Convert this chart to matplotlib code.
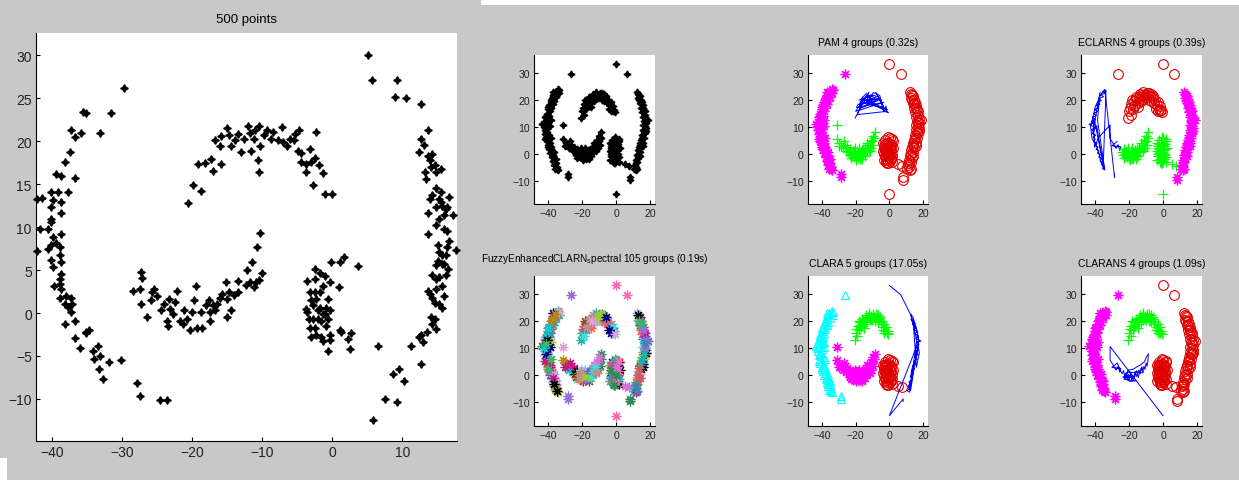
import matplotlib.pyplot as plt
from matplotlib.patches import Rectangle

plt.rcParams['font.family'] = ['Liberation Sans Narrow', 'Liberation Sans', 'DejaVu Sans']
plt.rcParams['mathtext.default'] = 'regular'

# ---- big panel: 500 points ----
big_left_ring = [
    (-42.2, 13.3), (-41.4, 13.4), (-41.7, 9.8), (-42.1, 7.2), (-40.1, 14.1), (-39.9, 13.1),
    (-39.4, 16.2), (-38.7, 16.0), (-38.1, 17.6), (-37.5, 18.7), (-37.3, 21.3), (-36.8, 20.5),
    (-35.6, 23.4), (-35.2, 23.3), (-35.9, 21.0), (-33.2, 21.0), (-31.6, 23.3), (-29.7, 26.2),
    (-36.7, 15.7), (-39.1, 14.1), (-37.8, 14.1), (-38.8, 12.9), (-40.1, 12.3), (-38.7, 11.7),
    (-40.1, 11.0), (-40.1, 10.6), (-40.6, 9.8), (-38.8, 9.2), (-39.9, 8.8), (-39.4, 8.1),
    (-40.1, 7.9), (-38.9, 7.7), (-40.6, 7.5), (-38.9, 6.7), (-40.2, 6.2), (-38.7, 5.9),
    (-39.9, 5.3), (-38.7, 4.6), (-38.9, 4.0), (-39.7, 3.2), (-38.9, 3.4), (-38.7, 2.8),
    (-38.9, 1.8), (-38.0, 2.0), (-37.3, 1.8), (-38.2, 1.1), (-37.8, 0.7), (-37.2, 1.1),
    (-37.3, 0.1), (-38.2, -1.3), (-36.7, -0.9), (-36.8, -2.9), (-36.0, -4.1), (-35.2, -2.2),
    (-34.7, -2.0), (-35.2, -2.3), (-34.2, -4.4), (-33.5, -3.8), (-34.0, -5.3), (-33.3, -6.5),
    (-33.1, -5.0), (-32.8, -7.7), (-31.9, -5.7), (-30.1, -5.5), (-27.9, -8.2), (-27.4, -9.7),
    (-24.6, -10.1), (-23.6, -10.1),
]
big_top_arc = [
    (-20.6, 12.8), (-19.9, 14.9), (-18.7, 14.2), (-19.2, 17.3), (-18.2, 17.5), (-17.3, 17.9),
    (-17.0, 16.5), (-15.9, 17.4), (-16.8, 20.2), (-16.0, 19.4), (-15.9, 20.6), (-15.1, 21.5),
    (-14.7, 20.7), (-14.4, 19.5), (-13.9, 20.1), (-13.4, 20.8), (-13.0, 18.8), (-12.6, 20.3),
    (-12.0, 21.8), (-11.8, 21.0), (-11.6, 18.9), (-11.2, 20.3), (-11.0, 21.3), (-10.5, 21.8),
    (-10.6, 17.8), (-10.4, 16.4), (-10.3, 19.5), (-9.8, 20.7), (-9.3, 21.3), (-8.8, 20.3),
    (-8.4, 21.1), (-7.2, 21.7), (-7.7, 20.1), (-7.0, 19.9), (-6.5, 19.5), (-6.1, 20.3),
    (-5.5, 20.1), (-5.3, 20.8), (-4.7, 21.3), (-4.9, 18.9), (-4.4, 18.6), (-4.5, 17.6),
    (-3.8, 17.3), (-3.7, 16.4), (-3.2, 19.1), (-3.0, 17.6), (-2.8, 14.9), (-2.5, 18.0),
    (-2.3, 21.1), (-1.9, 17.2), (-1.3, 16.3), (-1.1, 13.8), (0.0, 13.8),
]
big_low_arc = [
    (-10.3, 9.3), (-10.7, 7.7), (-10.0, 4.7), (-11.4, 5.9), (-12.2, 5.0), (-11.7, 3.6),
    (-12.3, 3.3), (-11.2, 3.0), (-10.5, 3.9), (-10.9, 3.6), (-13.4, 3.7), (-13.4, 2.5),
    (-14.0, 2.1), (-14.7, 2.4), (-15.2, 3.6), (-15.0, 1.6), (-15.8, 2.2), (-16.0, 1.7),
    (-16.5, 1.1), (-17.0, 0.9), (-17.4, 0.1), (-17.6, 1.5), (-18.1, 0.9), (-18.8, 0.1),
    (-19.3, -1.7), (-19.4, 3.2), (-19.8, 1.5), (-20.3, -2.0), (-20.0, 0.1), (-20.7, -0.7),
    (-21.2, 0.3), (-21.7, -0.9), (-22.2, 2.6), (-22.4, 1.3), (-23.1, 0.5), (-23.3, 1.6),
    (-23.6, -0.9), (-24.0, 1.1), (-24.5, 0.3), (-25.0, 2.0), (-25.7, 2.4), (-25.9, 1.5),
    (-26.4, -0.5), (-25.5, 2.8), (-27.4, 2.8), (-27.3, 1.1), (-27.3, 4.8), (-27.1, 4.1),
    (-28.5, 2.6), (-21.3, -1.3), (-18.6, -1.7), (-17.5, -0.9), (-16.7, 0.3), (-15.0, -0.5),
    (-14.5, 0.4), (-23.4, -1.5), (-22.7, -0.1),
]
big_blob = [
    (-3.6, 3.7), (-3.6, 0.1), (-3.8, 0.5), (-3.2, 2.4), (-3.0, 1.5), (-2.7, -0.7),
    (-2.5, 4.0), (-2.4, 5.1), (-3.2, -1.8), (-2.3, -2.6), (-2.5, -1.8), (-2.0, 0.3),
    (-1.8, 2.4), (-1.8, 4.7), (-1.6, -2.8), (-1.3, 3.2), (-1.1, -0.1), (-1.3, -3.2),
    (-0.9, -1.5), (-0.6, 1.6), (-0.6, -4.4), (-0.4, -2.6), (-0.4, 3.6), (-0.3, -3.1),
    (-0.2, 5.9), (-1.8, 0.6), (-1.3, -0.1), (-1.6, -0.9), (-0.9, 0.6), (-2.5, 2.4),
    (-2.0, -0.7), (-1.1, 4.3), (-2.3, 1.6), (-0.6, -0.7), (-0.4, 0.3), (-2.7, 0.9),
    (-3.3, -0.7), (-3.0, -2.8),
]
big_right = [
    (0.9, 3.0), (1.1, 5.9), (1.6, 6.5), (1.1, -2.0), (1.3, -2.2), (2.2, -3.0),
    (2.5, -4.2), (2.7, -2.3), (3.6, 5.5), (6.5, -3.8), (5.1, 30.0), (5.6, 27.1),
    (5.8, -12.5), (7.5, -10.0), (8.7, -7.1), (9.2, -10.4), (9.5, -6.5), (10.2, -7.9),
    (8.9, 25.1), (9.2, 27.1), (10.5, 25.0), (11.3, -3.8), (12.6, 24.3),
    (12.4, 18.7), (12.7, 20.3), (13.6, 21.3), (13.1, 19.6), (13.2, 16.4), (13.4, 15.6),
    (13.6, 18.3), (13.9, 17.8), (14.3, 18.5), (14.1, 17.0), (14.6, 17.2), (14.8, 16.4),
    (15.5, 16.8), (14.0, 13.3), (13.6, 11.7), (14.8, 14.5), (14.3, 13.7), (15.2, 13.3),
    (15.5, 14.1), (14.8, 12.4), (15.5, 12.9), (15.7, 12.5), (16.3, 12.1), (16.0, 11.4),
    (15.3, 11.0), (16.4, 12.3), (14.8, 10.2), (13.6, 9.2), (16.0, 9.8), (16.4, 9.6),
    (16.6, 13.5), (17.2, 11.4), (16.6, 8.4), (16.4, 7.7), (15.1, 7.9), (15.2, 7.1),
    (15.7, 6.7), (15.1, 6.1), (15.6, 5.7), (16.0, 5.7), (16.3, 6.7), (17.6, 7.3),
    (14.8, 4.0), (15.3, 4.2), (15.7, 3.2), (16.2, 4.4), (16.5, 5.1), (16.0, 2.0),
    (14.8, 2.8), (13.9, 2.2), (14.3, 1.8), (14.6, 1.2), (15.3, 1.0), (15.7, 0.6),
    (14.3, 4.4), (14.8, 5.6), (13.6, 2.6), (14.1, -0.5), (14.6, -0.7), (14.3, -1.3),
    (14.8, -1.9), (13.5, -2.2), (12.7, -2.6), (12.4, -2.8), (13.0, -3.4), (12.6, -5.9),
]

# ---- small panels: the clustered data set, split by region ----
s_left = [
    (-34.2, 24.0), (-35.5, 23.2), (-33.8, 22.5), (-36.8, 22.0), (-35.0, 21.3), (-37.6, 20.6),
    (-36.2, 19.8), (-38.5, 19.2), (-37.0, 18.5), (-39.2, 18.0), (-38.0, 17.2), (-40.1, 16.5),
    (-38.6, 15.8), (-40.8, 15.0), (-39.3, 14.2), (-41.6, 13.6), (-40.0, 12.8), (-42.2, 12.0),
    (-40.5, 11.5), (-43.5, 11.0), (-41.8, 10.4), (-40.0, 9.8), (-42.0, 9.0), (-40.6, 8.3),
    (-41.5, 7.5), (-39.5, 7.0), (-41.0, 6.2), (-39.8, 5.4), (-40.8, 4.6), (-38.8, 4.0),
    (-40.0, 3.2), (-38.2, 2.5), (-39.4, 1.8), (-37.6, 1.0), (-38.6, 0.3), (-36.8, -0.4),
    (-37.8, -1.2), (-36.0, -1.8), (-37.0, -2.6), (-35.4, -3.3), (-36.2, -4.0), (-34.8, -4.8),
    (-35.6, -5.5), (-34.2, -6.0), (-38.5, 12.5), (-37.0, 23.0), (-41.2, 8.0), (-39.0, 10.5),
    (-36.5, 0.5), (-35.0, -2.0), (-33.5, 23.6), (-36.0, 22.6), (-37.2, 21.4), (-38.0, 20.0),
    (-39.8, 17.6), (-41.0, 14.2), (-42.6, 10.0), (-41.6, 5.4), (-39.0, 3.0), (-37.2, -0.8),
    (-36.6, -3.0), (-34.6, -5.6), (-40.4, 13.0), (-41.0, 11.8), (-40.2, 2.4), (-38.0, 6.0),
]
s_out_nw = [(-26.4, 29.9)]
s_out_sw = [(-28.5, -7.5), (-28.5, -8.8)]
s_top = [
    (-20.3, 13.3), (-12.0, 23.0), (-20.0, 15.8), (-3.2, 19.2), (-19.5, 17.2), (-18.6, 18.4),
    (-6.8, 19.8), (-17.8, 16.8), (-17.2, 19.6), (-10.0, 20.6), (-16.5, 18.2), (-15.6, 20.5),
    (-1.0, 16.4), (-14.8, 19.0), (-14.0, 21.2), (-8.4, 20.2), (-13.2, 19.8), (-12.4, 21.8),
    (-4.5, 20.0), (-11.6, 20.4), (-10.8, 22.0), (-18.0, 20.0), (-9.2, 21.8), (-7.6, 21.4),
    (-15.0, 17.5), (-6.0, 20.8), (-5.2, 19.0), (-3.8, 18.0), (-8.0, 22.8), (-2.6, 16.6),
    (-2.0, 17.8), (-1.6, 15.8), (-19.0, 14.6), (-17.0, 17.8), (-16.0, 21.0), (-13.6, 22.4),
    (-11.0, 21.0), (-9.6, 22.8), (-7.0, 22.2), (-5.6, 21.6), (-4.0, 16.8), (-3.0, 15.8),
    (-0.6, 15.4), (-14.4, 20.0),
]
s_tip = [
    (-31.1, 10.7), (-31.1, 5.6), (-29.6, 4.2), (-28.6, 3.0), (-27.5, 2.0), (-26.4, 3.4),
    (-25.4, 1.2), (-24.8, 2.6), (-30.0, 3.0), (-27.0, 4.6),
]
s_low = [
    (-24.0, 0.6), (-23.2, 1.8), (-22.5, -0.2), (-21.8, 1.0), (-21.0, -1.2), (-20.4, 0.4),
    (-19.8, -0.8), (-19.0, 1.2), (-18.5, -1.6), (-17.8, 0.0), (-17.0, -1.0), (-16.4, 1.4),
    (-15.8, -0.4), (-15.0, 0.8), (-14.2, 2.0), (-13.5, 0.6), (-12.8, 2.6), (-12.0, 1.4),
    (-11.2, 3.4), (-10.6, 2.2), (-10.0, 4.6), (-9.4, 3.4), (-8.8, 6.0), (-8.6, 8.0),
    (-9.8, 6.8), (-11.0, 5.0), (-13.0, 4.0), (-18.0, 2.2), (-20.5, 2.0), (-22.8, -1.4),
    (-16.0, -2.0), (-19.5, -2.2), (-23.6, -0.6), (-21.4, 0.2), (-20.0, -1.6), (-18.8, 0.4),
    (-17.4, -1.8), (-16.8, 0.6), (-15.4, 1.8), (-14.6, -0.8), (-13.8, 1.2), (-12.4, 3.2),
    (-11.6, 1.0), (-20.8, 1.2), (-22.0, -0.8), (-18.2, -0.6),
]
s_blob = [
    (-3.6, 1.0), (-3.0, 3.0), (-2.8, -1.0), (-2.4, 5.0), (-2.2, 0.2), (-1.8, 2.2),
    (-1.6, -2.4), (-1.2, 4.2), (-1.0, 0.8), (-0.8, -3.4), (-0.4, 2.8), (-0.2, -1.2),
    (0.2, 5.8), (0.4, 1.6), (0.8, -2.0), (1.0, 3.6), (1.4, 0.0), (1.8, -3.0),
    (2.2, 2.0), (2.0, 4.8), (-3.4, -2.2), (-2.6, 1.8), (-0.6, 6.2), (0.6, -0.6),
    (-1.4, 3.4), (-3.8, 4.0), (1.6, -1.2), (-2.0, -3.2), (-3.2, -0.2), (-2.6, 3.8),
    (-2.0, -1.8), (-1.8, 0.8), (-1.0, -0.6), (-0.6, 1.4), (-0.2, 4.2), (0.2, -2.6),
    (1.2, 1.8), (1.6, 5.4), (-3.0, 2.0), (0.0, 0.2), (-1.4, -3.6), (0.8, 3.0),
]
s_blob_out = [(5.3, -3.8), (7.6, -4.4)]
s_right = [
    (12.2, 23.0), (13.6, 22.0), (12.8, 20.6), (14.6, 20.0), (13.8, 18.8), (15.8, 18.0),
    (14.6, 17.0), (16.6, 16.2), (15.2, 15.4), (17.2, 14.6), (15.8, 13.6), (18.8, 12.7),
    (16.2, 12.4), (17.6, 11.4), (15.6, 10.6), (17.4, 9.6), (15.8, 8.8), (17.0, 7.8),
    (15.0, 7.0), (16.4, 6.0), (14.6, 5.2), (15.6, 4.2), (13.8, 3.4), (14.8, 2.4),
    (13.0, 1.6), (14.0, 0.6), (12.4, -0.4), (13.2, -1.4), (11.6, -2.4), (12.6, -3.2),
    (11.0, -4.0), (11.8, -5.0), (10.4, -5.6), (12.0, -6.2), (16.8, 15.8), (14.0, 21.6),
    (16.0, 3.0), (17.8, 8.4), (12.8, 22.4), (13.4, 20.0), (15.2, 19.2), (14.4, 18.4),
    (16.0, 17.0), (17.6, 13.0), (16.8, 10.2), (16.6, 8.0), (15.4, 5.8), (14.2, 4.0),
    (13.4, 2.6), (12.8, 0.0), (13.8, -1.0), (11.6, -3.6), (12.6, -5.6), (17.0, 12.0),
]
s_top_out = [(0.0, 33.3), (6.7, 29.9)]
s_bot_out = [(0.0, -14.9)]
s_right_out = [(8.2, -8.7), (8.2, -9.6)]

titles = ['PAM 4 groups (0.32s)', 'ECLARNS 4 groups (0.39s)',
          'FuzzyEnhancedCLARN$_s$pectral 105 groups (0.19s)',
          'CLARA 5 groups (17.05s)', 'CLARANS 4 groups (1.09s)']

W, H = 1239, 481
GRAY = '#c8c8c8'
MAG, GRN, BLU, RED, CYN = '#ff00ff', '#00ff00', '#0000ff', '#e00000', '#00ffff'
STAR4 = (4, 1, 0)
ASTER = (8, 2, 0)


def box(l, t, r, b):
    return [l / W, (H - b) / H, (r - l) / W, (b - t) / H]


def xy(*groups):
    pts = [p for g in groups for p in g]
    return [p[0] for p in pts], [p[1] for p in pts]


def style(ax, xlim, ylim, xt, yt, fs):
    ax.set_xlim(xlim)
    ax.set_ylim(ylim)
    ax.set_xticks(xt)
    ax.set_yticks(yt)
    ax.spines['top'].set_visible(False)
    ax.spines['right'].set_visible(False)
    ax.tick_params(direction='in', length=3, labelsize=fs, colors='black',
                   labelcolor='#222222', pad=3)


fig = plt.figure(figsize=(W / 100, H / 100), dpi=100, facecolor=GRAY)
fig.patches.append(Rectangle((481 / W, (H - 6) / H), 1, 6 / H, transform=fig.transFigure,
                             facecolor='white', edgecolor='none', zorder=0))
fig.patches.append(Rectangle((0, 0), 7 / W, 22 / H, transform=fig.transFigure,
                             facecolor='white', edgecolor='none', zorder=0))

# big scatter
ax = fig.add_axes(box(36, 34, 457, 442))
x, y = xy(big_left_ring, big_top_arc, big_low_arc, big_blob, big_right)
ax.plot(x, y, ls='none', marker=STAR4, ms=5.5, color='black', clip_on=False)
style(ax, (-42.3, 17.8), (-14.9, 32.6), [-40, -30, -20, -10, 0, 10],
      [-10, -5, 0, 5, 10, 15, 20, 25, 30], 10)
ax.set_title('500 points', fontsize=9.5, pad=8)

all_small = [s_left, s_out_nw, s_out_sw, s_top, s_tip, s_low, s_blob, s_blob_out,
             s_right, s_top_out, s_bot_out, s_right_out]

cols = [(534, 655), (808, 928), (1081, 1202)]
rows = [(56, 205), (277, 427)]


def small(ci, ri):
    l, r = cols[ci]
    t, b = rows[ri]
    a = fig.add_axes(box(l, t, r, b))
    style(a, (-48.2, 22.9), (-18.7, 36.8), [-40, -20, 0, 20], [-10, 0, 10, 20, 30], 7.5)
    return a


def stars(a, groups, c):
    x, y = xy(*groups)
    a.plot(x, y, ls='none', marker=ASTER, ms=7, color=c, mew=0.9)


def pluses(a, groups, c):
    x, y = xy(*groups)
    a.plot(x, y, ls='none', marker='+', ms=7, color=c, mew=0.9)


def rings(a, groups, c):
    x, y = xy(*groups)
    a.plot(x, y, ls='none', marker='o', ms=7, mfc='none', mec=c, mew=0.8)


def tris(a, groups, c):
    x, y = xy(*groups)
    a.plot(x, y, ls='none', marker='^', ms=6, mfc='none', mec=c, mew=0.8)


def lines(a, groups, c):
    x, y = xy(*groups)
    a.plot(x, y, ls='-', lw=0.7, color=c)


# raw data
a = small(0, 0)
x, y = xy(*all_small)
a.plot(x, y, ls='none', marker=STAR4, ms=5, color='black')

# PAM
a = small(1, 0)
stars(a, [s_left, s_out_nw, s_out_sw], MAG)
lines(a, [s_top], BLU)
pluses(a, [s_tip, s_low], GRN)
rings(a, [s_blob, s_blob_out, s_right, s_top_out, s_bot_out, s_right_out], RED)
a.set_title(titles[0], fontsize=7.5, pad=7)

# ECLARNS
a = small(2, 0)
lines(a, [s_out_sw, s_left, s_tip], BLU)
rings(a, [s_top, s_out_nw, s_top_out], RED)
pluses(a, [s_low, s_blob, s_blob_out, s_bot_out], GRN)
stars(a, [s_right, s_right_out], MAG)
a.set_title(titles[1], fontsize=7.5, pad=7)

# Fuzzy, many small groups
a = small(0, 1)
palette = ['#3cb371', '#9370db', '#20b2aa', '#cd5c5c', '#4682b4', '#ff69b4', '#2e8b57',
           '#da70d6', '#87ceeb', '#8b4513', '#ff6347', '#6a5acd', '#40e0d0', '#bc8f8f',
           '#9acd32', '#000080', '#dda0dd', '#b8860b', '#00ced1', '#c71585', '#000000']
x, y = xy(*all_small)
for i in range(len(x)):
    a.plot(x[i], y[i], ls='none', marker=ASTER, ms=7, mew=0.9,
           color=palette[(i // 3) % len(palette)])
a.set_title(titles[2], fontsize=7.2, pad=11)

# CLARA
a = small(1, 1)
tris(a, [s_left, s_out_nw, s_out_sw], CYN)
pluses(a, [s_top], GRN)
stars(a, [s_tip, s_low], MAG)
rings(a, [s_blob, s_blob_out], RED)
lines(a, [s_top_out, s_right, s_bot_out, s_right_out], BLU)
a.set_title(titles[3], fontsize=7.5, pad=7)

# CLARANS
a = small(2, 1)
stars(a, [s_left, s_out_nw, s_out_sw], MAG)
pluses(a, [s_top], GRN)
lines(a, [s_bot_out, s_tip, s_low], BLU)
rings(a, [s_blob, s_blob_out, s_right, s_top_out, s_right_out], RED)
a.set_title(titles[4], fontsize=7.5, pad=7)

fig.savefig('out.png', dpi=100, facecolor=GRAY)
